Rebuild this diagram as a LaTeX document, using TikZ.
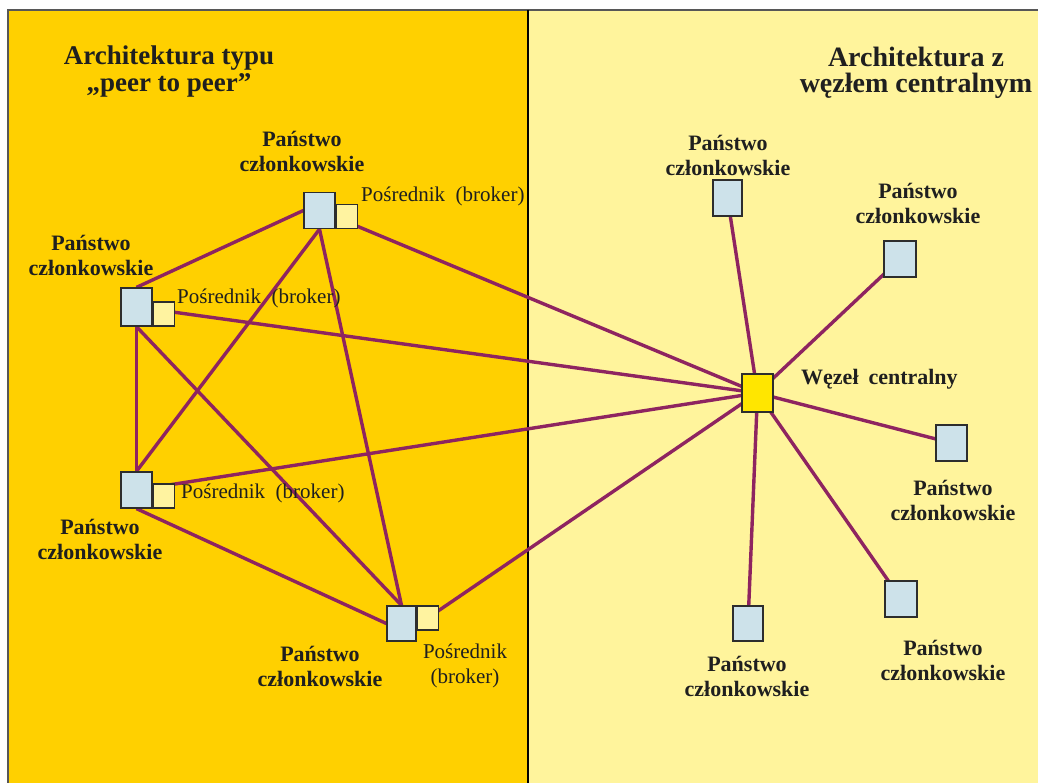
\documentclass[tikz,border=0pt]{standalone}
\usepackage{fontspec}
\setmainfont{Liberation Serif}
\pgfdeclarelayer{bg}
\pgfsetlayers{bg,main}
\definecolor{leftpanel}{RGB}{255,208,0}
\definecolor{rightpanel}{RGB}{255,244,156}
\definecolor{msblue}{RGB}{205,226,234}
\definecolor{brkyellow}{RGB}{255,243,160}
\definecolor{centralc}{RGB}{255,230,0}
\definecolor{linkc}{RGB}{142,36,96}
\definecolor{boxline}{RGB}{45,45,45}
\begin{document}
\begin{tikzpicture}[x=1pt,y=-1pt,
  ms/.style={draw=boxline, fill=msblue, line width=1.3pt, minimum width=31pt, minimum height=36pt, inner sep=0pt},
  brk/.style={draw=boxline, fill=brkyellow, line width=1.3pt, minimum width=21pt, minimum height=24pt, inner sep=0pt},
  cen/.style={ms, fill=centralc, minimum height=38pt},
  lbl/.style={font=\fontsize{22}{25}\selectfont\bfseries, align=center, inner sep=0pt, text=black!88},
  blbl/.style={font=\fontsize{21}{25}\selectfont, align=center, inner sep=0pt, text=black!88},
  ttl/.style={font=\fontsize{27}{27}\selectfont\bfseries, align=center, inner sep=0pt, text=black!88},
  link/.style={draw=linkc, line width=3.4pt}]
\useasboundingbox (0,0) rectangle (1038,783);
\begin{pgfonlayer}{bg}
  \fill[white] (0,0) rectangle (1038,783);
  \fill[leftpanel] (8,10) rectangle (528,783);
  \fill[rightpanel] (528,10) rectangle (1038,783);
  \draw[boxline!80, line width=1.2pt] (8,783) -- (8,10) -- (1038,10);
  \draw[black, line width=1.6pt] (528,10) -- (528,783);
\end{pgfonlayer}

% titles
\node[ttl] (t1) at (169,72) {Architektura typu\\„peer to peer”};
\node[ttl, font=\fontsize{28}{26}\selectfont\bfseries] (t2) at (916,73) {Architektura z\\węzłem centralnym};

% peer-to-peer nodes
\node[ms] (tp) at (319.5,210.5) {};
\node[brk, anchor=south west] (tpb) at (tp.south east) {};
\node[ms, minimum height=38pt] (p1) at (136.5,307) {};
\node[brk, anchor=south west] (p1b) at (p1.south east) {};
\node[ms] (p2) at (136.5,490) {};
\node[brk, anchor=south west] (p2b) at (p2.south east) {};
\node[ms, minimum width=29pt, minimum height=35pt] (bp) at (401.5,623.5) {};
\node[brk, anchor=north west] (bpb) at (bp.north east) {};

% central architecture nodes
\node[cen] (c) at (757.5,393) {};
\node[ms, minimum width=29pt] (r1) at (727.5,198) {};
\node[ms, minimum width=32pt] (r2) at (900,259) {};
\node[ms] (r3) at (951.5,443) {};
\node[ms, minimum width=32pt] (r4) at (901,599) {};
\node[ms, minimum width=30pt, minimum height=35pt] (r5) at (748,623.5) {};

% labels
\node[lbl] (ltp) at (302,151) {Państwo\\członkowskie};
\node[lbl] (lp1) at (91,255) {Państwo\\członkowskie};
\node[lbl] (lp2) at (100,539) {Państwo\\członkowskie};
\node[lbl] (lbp) at (320,666) {Państwo\\członkowskie};
\node[blbl, anchor=west] (btp) at (361,196) {Pośrednik\hspace{0.25em} (broker)};
\node[blbl, anchor=west] (bp1) at (177,298) {Pośrednik\hspace{0.25em} (broker)};
\node[blbl, anchor=west] (bp2) at (181,493) {Pośrednik\hspace{0.25em} (broker)};
\node[blbl] (bbp) at (465,666) {Pośrednik\\(broker)};
\node[lbl, anchor=west] (lc) at (801,379) {Węzeł\hspace{0.2em} centralny};
\node[lbl] (lr1) at (728,155) {Państwo\\członkowskie};
\node[lbl] (lr2) at (918,203) {Państwo\\członkowskie};
\node[lbl] (lr3) at (953,500) {Państwo\\członkowskie};
\node[lbl] (lr4) at (943,660) {Państwo\\członkowskie};
\node[lbl] (lr5) at (747,676) {Państwo\\członkowskie};

% connectors
\begin{pgfonlayer}{bg}
  \draw[link] (tp.west) -- (p1.north);
  \draw[link] (tp.south) -- (p2.north);
  \draw[link] (tp.south) -- (bp.north);
  \draw[link] (p1.south) -- (p2.north);
  \draw[link] (p1.south) -- (bp.north);
  \draw[link] (p2.south) -- (bp.west);
  \draw[link] (tp.center) -- (c.center);
  \draw[link] (p1.center) -- (c.center);
  \draw[link] (p2.center) -- (c.center);
  \draw[link] (bpb.center) -- (c.center);
  \draw[link] (c.center) -- (r1.center);
  \draw[link] (c.center) -- (r2.center);
  \draw[link] (c.center) -- (r3.center);
  \draw[link] (c.center) -- (r4.center);
  \draw[link] (c.center) -- (r5.center);
\end{pgfonlayer}
\end{tikzpicture}
\end{document}
